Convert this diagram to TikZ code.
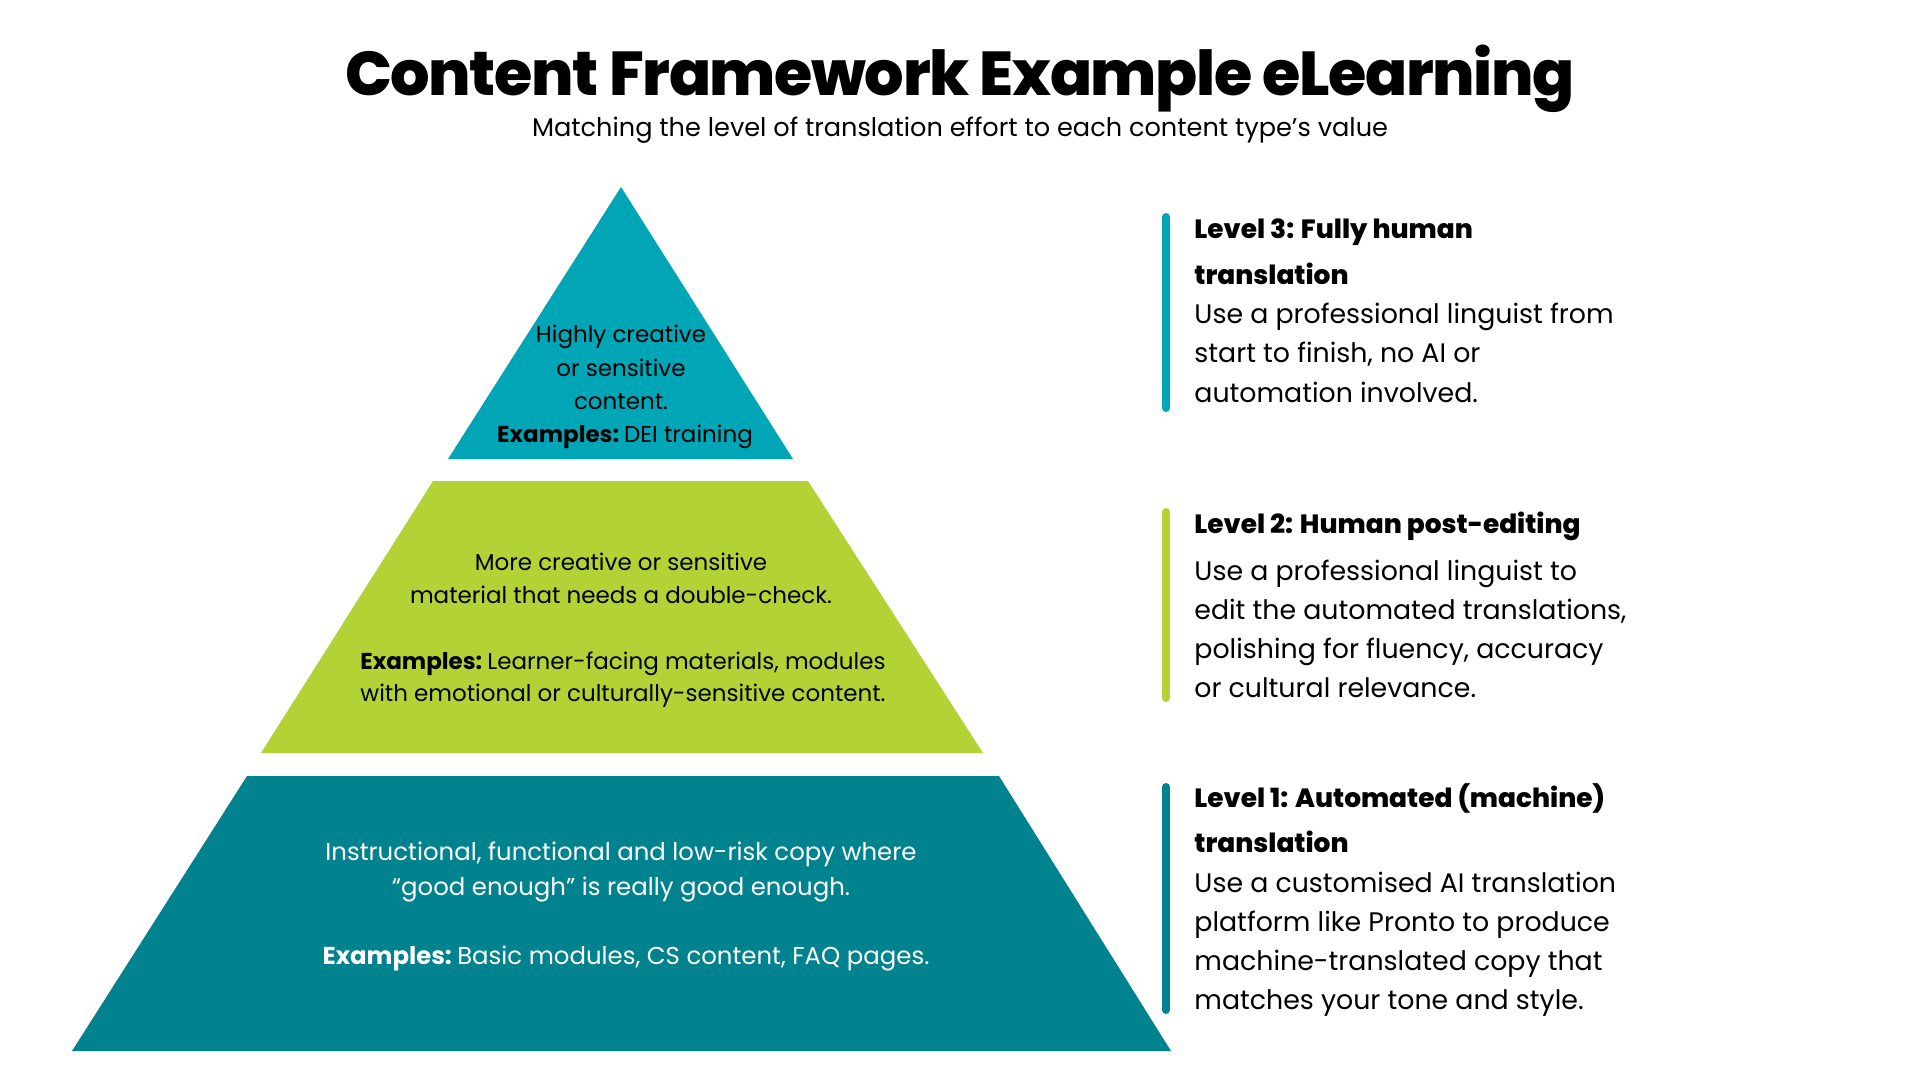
\documentclass[tikz,border=0pt]{standalone}
\usepackage{fontspec}
\setmainfont{Poppins}
\IfFontExistsTF{Poppins ExtraBold}{\newfontfamily\heavyfont{Poppins ExtraBold}\newfontfamily\titlefont{Poppins ExtraBold}[LetterSpace=-2.2]}{\newcommand\heavyfont{\bfseries}\newcommand\titlefont{\bfseries}}
\definecolor{teal3}{RGB}{0,166,182}
\definecolor{lime2}{RGB}{178,210,53}
\definecolor{teal1}{RGB}{0,130,143}
\newcommand\exlabel{\textbf{Examples:}\hspace{0.22em}}
\tikzset{
  pyr/.style={font=\fontsize{11.5}{16.5}\selectfont, anchor=base, inner sep=0pt},
  pyrbig/.style={font=\fontsize{12.2}{16.5}\selectfont, anchor=base, inner sep=0pt, text=white},
  head/.style={font=\heavyfont\fontsize{13.2}{22}\selectfont, anchor=base west, inner sep=0pt},
  body/.style={font=\fontsize{13.4}{19}\selectfont, anchor=base west, inner sep=0pt},
  bar/.style={line width=4pt, line cap=round},
}
\begin{document}
\begin{tikzpicture}[x=0.5pt,y=-0.5pt]
\useasboundingbox (0,0) rectangle (1920,1080);
\fill[white] (0,0) rectangle (1920,1080);
% title
\node[anchor=base, inner sep=0pt, font=\titlefont\fontsize{31}{38}\selectfont] (title) at (960,96) {Content Framework Example eLearning};
\node[anchor=base, inner sep=0pt, font=\fontsize{12.8}{16}\selectfont] (subtitle) at (960,137) {Matching the level of translation effort to each content type’s value};
% pyramid
\fill[teal3] (621,187) -- (793,459) -- (448,459) -- cycle;
\fill[lime2] (433,481) -- (808,481) -- (983,753) -- (261,753) -- cycle;
\fill[teal1] (247,776) -- (999,776) -- (1171,1051) -- (72,1051) -- cycle;
% top text
\node[pyr] (t1) at (621,343) {Highly creative};
\node[pyr] (t2) at (621,376) {or sensitive};
\node[pyr] (t3) at (621,409) {content.};
\node[pyr] (t4) at (625,442) {\exlabel DEI training};
% middle text
\node[pyr] (m1) at (621,570) {More creative or sensitive};
\node[pyr] (m2) at (621,603) {material that needs a double-check.};
\node[pyr] (m3) at (623,669) {\exlabel Learner-facing materials, modules};
\node[pyr] (m4) at (623,701) {with emotional or culturally-sensitive content.};
% bottom text
\node[pyrbig] (b1) at (621,860) {Instructional, functional and low-risk copy where};
\node[pyrbig] (b2) at (621,895) {“good enough” is really good enough.};
\node[pyrbig] (b3) at (626,964) {\exlabel Basic modules, CS content, FAQ pages.};
% right column: level 3
\coordinate (b3t) at (1166,217);
\coordinate (b3b) at (1166,408);
\draw[bar, teal3] (b3t) -- (b3b);
\node[head] (h3a) at (1194,239) {Level 3: Fully human};
\node[head] (h3b) at (1194,285) {translation};
\node[body] (d3a) at (1194,324) {Use a professional linguist from};
\node[body] (d3b) at (1194,363) {start to finish, no AI or};
\node[body] (d3c) at (1194,402) {automation involved.};
% level 2
\coordinate (b2t) at (1166,512);
\coordinate (b2b) at (1166,698);
\draw[bar, lime2] (b2t) -- (b2b);
\node[head] (h2a) at (1194,533) {Level 2: Human post-editing};
\node[body] (d2a) at (1194,580) {Use a professional linguist to};
\node[body] (d2b) at (1194,619) {edit the automated translations,};
\node[body] (d2c) at (1194,658) {polishing for fluency, accuracy};
\node[body] (d2d) at (1194,697) {or cultural relevance.};
% level 1
\coordinate (b1t) at (1166,787);
\coordinate (b1b) at (1166,1010);
\draw[bar, teal1] (b1t) -- (b1b);
\node[head] (h1a) at (1194,807) {Level 1: Automated (machine)};
\node[head] (h1b) at (1194,852) {translation};
\node[body] (d1a) at (1194,892) {Use a customised AI translation};
\node[body] (d1b) at (1194,931) {platform like Pronto to produce};
\node[body] (d1c) at (1194,970) {machine-translated copy that};
\node[body] (d1d) at (1194,1009) {matches your tone and style.};
\end{tikzpicture}
\end{document}
